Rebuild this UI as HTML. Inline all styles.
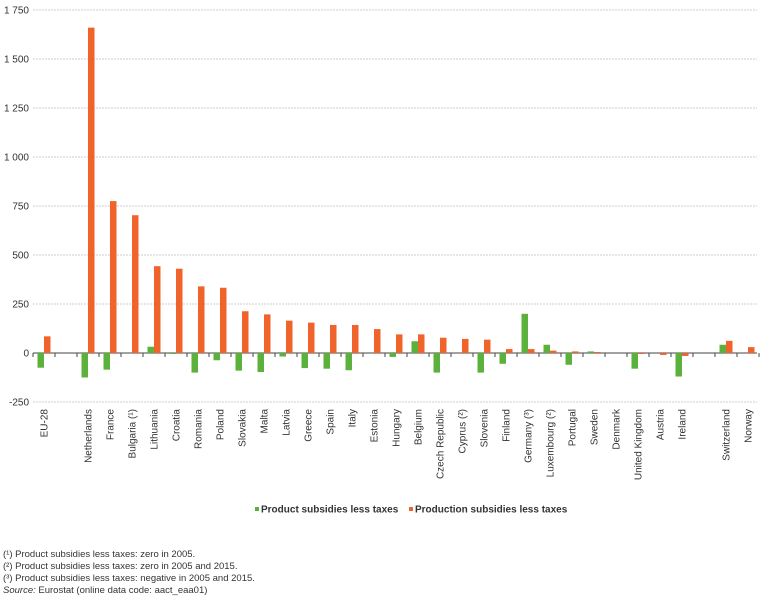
<!DOCTYPE html>
<html><head><meta charset="utf-8"><style>
body{margin:0;background:#fff;font-family:"Liberation Sans",Arial,sans-serif;}
svg text{font-family:"Liberation Sans",Arial,sans-serif;}
</style></head><body>
<svg id="chart" width="777" height="600" xmlns="http://www.w3.org/2000/svg">
<g id="grid"></g><g id="bars"></g><g id="xlabels"></g>
<g font-size="10" fill="#222">
<rect x="255" y="507" width="4" height="4" fill="#5cb13d"/>
<text x="261" y="512.5" font-weight="bold" fill="#333" style="font-weight:600">Product subsidies less taxes</text>
<rect x="409" y="507" width="4" height="4" fill="#f0632a"/>
<text x="415" y="512.5" fill="#333" style="font-weight:600">Production subsidies less taxes</text>
</g>
<g font-size="9.5" fill="#333">
<text x="3" y="557">(¹) Product subsidies less taxes: zero in 2005.</text>
<text x="3" y="569">(²) Product subsidies less taxes: zero in 2005 and 2015.</text>
<text x="3" y="581">(³) Product subsidies less taxes: negative in 2005 and 2015.</text>
<text x="3" y="593"><tspan font-style="italic">Source:</tspan> Eurostat (online data code: aact_eaa01)</text>
</g>
</svg>
<script>
const categories=["EU-28","","Netherlands","France","Bulgaria (¹)","Lithuania","Croatia","Romania","Poland","Slovakia","Malta","Latvia","Greece","Spain","Italy","Estonia","Hungary","Belgium","Czech Republic","Cyprus (²)","Slovenia","Finland","Germany (³)","Luxembourg (²)","Portugal","Sweden","Denmark","United Kingdom","Austria","Ireland","","Switzerland","Norway"];
const productValues=[-75,null,-125,-85,0,32,-5,-100,-37,-90,-97,-18,-77,-80,-88,0,-20,60,-100,0,-100,-55,200,42,-60,8,0,-80,0,-120,null,42,0];
const productionValues=[85,null,1660,775,703,443,430,340,333,213,197,165,155,143,143,122,95,95,78,72,68,20,20,12,8,5,0,-5,-10,-15,null,62,30];
const yTicks=[-250,0,250,500,750,1000,1250,1500,1750];
const yTickLabels=["-250","0","250","500","750","1 000","1 250","1 500","1 750"];
const NS="http://www.w3.org/2000/svg";
const x0=33,x1=759,y0=353,pxPer=49/250;
const slot=(x1-x0)/categories.length;
function y(v){return y0-v*pxPer;}
function xc(i){return x0+slot*(i+0.5);}
function mk(t,a,p){const e=document.createElementNS(NS,t);for(const k in a)e.setAttribute(k,a[k]);p.appendChild(e);return e;}
const grid=document.getElementById('grid');
yTicks.forEach((v,i)=>{
  if(v!==0){const l=mk('line',{x1:x0,x2:757,y1:y(v),y2:y(v),stroke:'#ccc','stroke-dasharray':'2,1','stroke-width':1},grid);
  
  }
  const t=mk('text',{x:29,y:y(v)+3.5,'text-anchor':'end','font-size':10,fill:'#333'},grid);
  
  
  t.textContent=yTickLabels[i];
});
const bars=document.getElementById('bars');
categories.forEach((c,i)=>{
  const cx=xc(i);
  [[productValues[i],'#5cb13d',-6.5],[productionValues[i],'#f0632a',0]].forEach(([v,col,off],k)=>{
    if(v===null||v===0)return;
    const r=mk('rect',{x:cx+off,y:Math.min(y(v),y0),width:6.5,height:Math.abs(y(v)-y0),fill:col},bars);
    
    
  });
});
const ax=mk('line',{x1:x0,x2:757,y1:y0,y2:y0,stroke:'#444','stroke-width':1},grid);


for(let i=0;i<=categories.length;i++){
  const tk=mk('line',{x1:x0+slot*i,x2:x0+slot*i,y1:y0,y2:y0+4,stroke:'#444'},grid);
  
  
}
const xl=document.getElementById('xlabels');
categories.forEach((c,i)=>{
  if(!c)return;
  const t=mk('text',{transform:`translate(${xc(i)+3.5},409) rotate(-90)`,'text-anchor':'end','font-size':10,fill:'#333'},xl);
  
  
  t.textContent=c;
});
</script>
</body></html>
